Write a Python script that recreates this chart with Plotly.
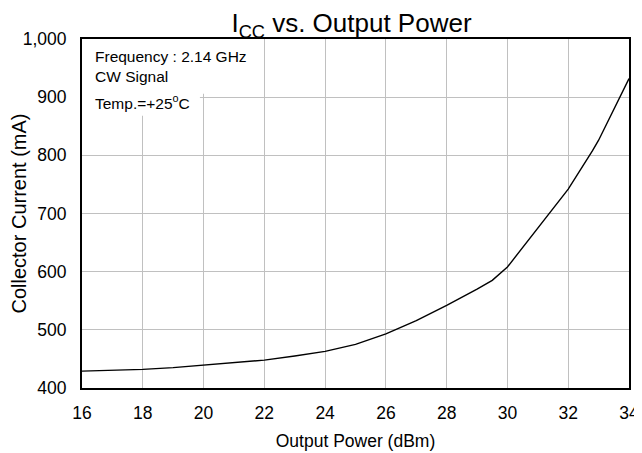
import plotly.graph_objects as go

power_dbm = [16, 17, 18, 19, 20, 21, 22, 23, 24, 25, 26, 27, 28, 29, 29.5, 30, 31, 32, 32.8, 33, 34]
icc_ma = [429, 430.5, 432, 435, 439, 443, 448, 455, 463, 475, 493, 516, 542, 570, 585, 608, 675, 742, 808, 826, 932]

x_ticks = [16, 18, 20, 22, 24, 26, 28, 30, 32, 34]
y_ticks = [400, 500, 600, 700, 800, 900, 1000]

notes = ["Frequency : 2.14 GHz", "CW Signal", "Temp.=+25<sup>o</sup>C"]

FONT = "Liberation Sans, Arial, sans-serif"
OFF = 8  # browser default body margin
W, H = 642 - OFF, 453 - OFF
L, R, T, B = 82 - OFF, 629 - OFF, 39 - OFF, 388 - OFF

fig = go.Figure()
fig.add_trace(go.Scatter(x=power_dbm, y=icc_ma, mode="lines",
                         line=dict(color="black", width=1.4),
                         showlegend=False, hoverinfo="skip"))

# white background behind the notes (covers gridlines)
fig.add_shape(type="rect", xref="x", yref="y", x0=16, x1=20.05, y0=906, y1=1000,
              fillcolor="white", line=dict(width=0), layer="between")
fig.add_shape(type="rect", xref="x", yref="y", x0=16, x1=19.88, y0=868, y1=1000,
              fillcolor="white", line=dict(width=0), layer="between")

note_y = [56.5, 76.5, 101.5]
for txt, py in zip(notes, note_y):
    fig.add_annotation(text=txt, xref="paper", yref="paper",
                       x=11 / (R - L), xanchor="left",
                       y=1 - (py - OFF - T) / (B - T), yanchor="middle",
                       showarrow=False, font=dict(family=FONT, size=15.5, color="black"))

fig.update_layout(
    width=W, height=H,
    margin=dict(l=L, r=W - R, t=T, b=H - B, autoexpand=False),
    paper_bgcolor="white", plot_bgcolor="white",
    font=dict(family=FONT, color="black"),
    title=dict(text="I<sub>CC</sub> vs. Output Power", x=(351.5 - OFF) / W, xanchor="center",
               y=1 - (23 - OFF) / H, yanchor="middle", automargin=False,
               font=dict(family=FONT, size=26, color="black")),
)
fig.update_xaxes(range=[16, 34], tickvals=x_ticks, showgrid=True, gridcolor="#c0c0c0", gridwidth=1,
                 showline=True, linecolor="black", linewidth=2, mirror=True, ticks="",
                 ticklabelstandoff=8, zeroline=False, automargin=False,
                 tickfont=dict(family=FONT, size=17.5, color="black"),
                 title=dict(text="Output Power (dBm)", font=dict(family=FONT, size=17.5, color="black"), standoff=13))
fig.update_yaxes(range=[400, 1000], tickvals=y_ticks, tickformat=",", showgrid=True, gridcolor="#c0c0c0",
                 gridwidth=1, showline=True, linecolor="black", linewidth=2, mirror=True, ticks="",
                 ticklabelstandoff=10, zeroline=False, automargin=False,
                 tickfont=dict(family=FONT, size=17.5, color="black"),
                 title=dict(text="Collector Current (mA)", font=dict(family=FONT, size=20, color="black"), standoff=8))

fig.write_html("out.html")
